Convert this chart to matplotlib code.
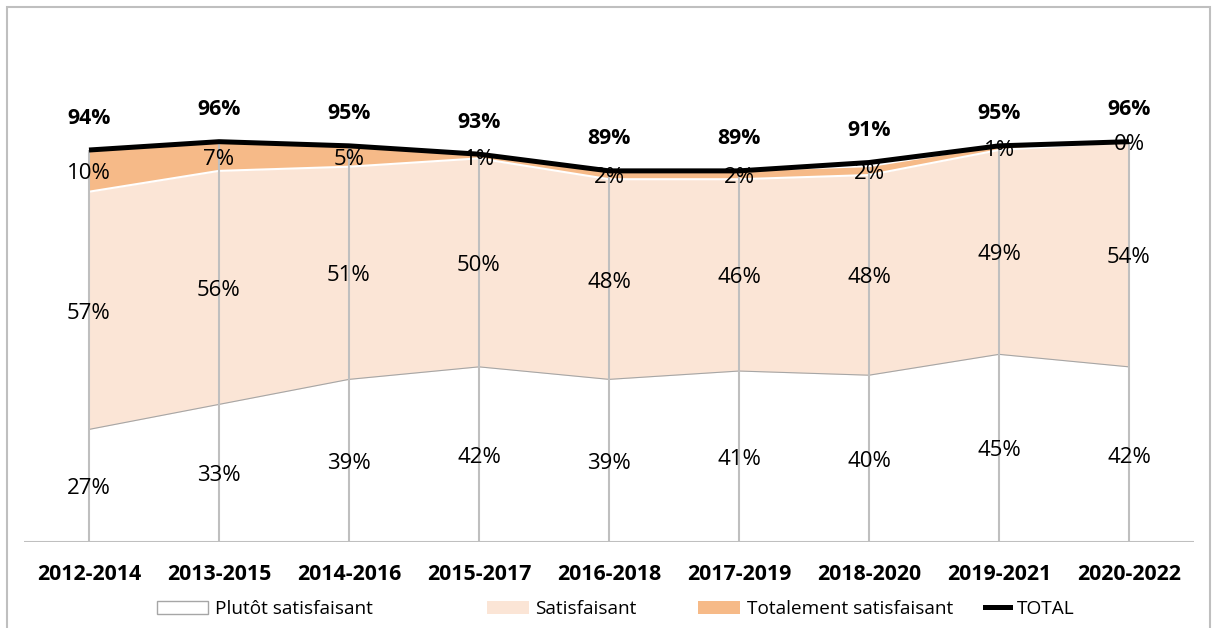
import matplotlib.pyplot as plt
from matplotlib.patches import Patch, Rectangle
from matplotlib.lines import Line2D
import numpy as np

plt.rcParams['font.family'] = ['Open Sans', 'DejaVu Sans']

periods = ['2012-2014', '2013-2015', '2014-2016', '2015-2017', '2016-2018',
           '2017-2019', '2018-2020', '2019-2021', '2020-2022']
plutot = [27, 33, 39, 42, 39, 41, 40, 45, 42]
satisf = [57, 56, 51, 50, 48, 46, 48, 49, 54]
totalement = [10, 7, 5, 1, 2, 2, 2, 1, 0]
total = [94, 96, 95, 93, 89, 89, 91, 95, 96]

c_plutot = 'white'
c_satisf = '#FBE5D6'
c_total = '#F6BA88'
grey = '#BFBFBF'

fig = plt.figure(figsize=(12.16, 6.28), dpi=100)
ax = fig.add_axes([24 / 1216, 86 / 628, 1170 / 1216, 417 / 628])

x = np.arange(len(periods))
p = np.array(plutot)
s = np.array(satisf)
t = np.array(totalement)

# stacked areas
ax.fill_between(x, 0, p, color=c_plutot, lw=0, zorder=1)
ax.plot(x, p, color='#A6A6A6', lw=0.8, zorder=2)
ax.fill_between(x, p, p + s, color=c_satisf, lw=0, zorder=1)
ax.fill_between(x, p + s, p + s + t, color=c_total, lw=0, zorder=1)
ax.plot(x, p + s, color='white', lw=1.5, zorder=2)

# drop lines + axis line
ax.vlines(x, 0, p + s + t, color=grey, lw=1.5, zorder=3)
ax.hlines(0, -0.5, len(periods) - 0.5, color=grey, lw=1.5, zorder=3)

# total line
ax.plot(x, total, color='black', lw=3.6, zorder=5, solid_capstyle='butt')

# data labels
for i in range(len(periods)):
    ax.annotate(f'{plutot[i]}%', (x[i], p[i] / 2), xytext=(0, -2), textcoords='offset points',
                ha='center', va='center', fontsize=16, zorder=6)
    ax.annotate(f'{satisf[i]}%', (x[i], p[i] + s[i] / 2), xytext=(0, -2), textcoords='offset points',
                ha='center', va='center', fontsize=16, zorder=6)
    ax.annotate(f'{totalement[i]}%', (x[i], p[i] + s[i] + t[i] / 2), xytext=(0, -2),
                textcoords='offset points', ha='center', va='center', fontsize=16, zorder=6)
    ax.annotate(f'{total[i]}%', (x[i], total[i]), xytext=(0, 23), textcoords='offset points',
                ha='center', va='center', fontsize=15.3, fontweight='bold', zorder=6)

ax.set_xlim(-0.5, len(periods) - 0.5)
ax.set_ylim(0, 100)
ax.set_xticks(x)
ax.set_xticklabels(periods, fontsize=15.4, fontweight='bold')
ax.tick_params(axis='x', length=0, pad=16)
ax.set_yticks([])
for sp in ax.spines.values():
    sp.set_visible(False)
ax.patch.set_alpha(0)

# legend items placed one by one
items = [
    (Patch(facecolor='white', edgecolor='#A6A6A6', lw=1), 'Plutôt satisfaisant', 157, 2.7),
    (Patch(facecolor=c_satisf, edgecolor='none'), 'Satisfaisant', 487, 2.2),
    (Patch(facecolor=c_total, edgecolor='none'), 'Totalement satisfaisant', 698, 2.2),
    (Line2D([], [], color='black', lw=3.6), 'TOTAL', 985, 1.3),
]
for h, lab, xpx, hl in items:
    fig.legend([h], [lab], loc='center left', bbox_to_anchor=(xpx / 1216, 1 - 609 / 628),
               frameon=False, fontsize=13.7, handlelength=hl, handleheight=0.7,
               handletextpad=0.35, borderpad=0, borderaxespad=0)

# outer frame
fig.patches.append(Rectangle((7 / 1216, -0.01), 1203 / 1216, 1 - 7 / 628 + 0.01,
                             transform=fig.transFigure, fill=False, edgecolor=grey, lw=1.5))

fig.savefig('out.png', dpi=100)
